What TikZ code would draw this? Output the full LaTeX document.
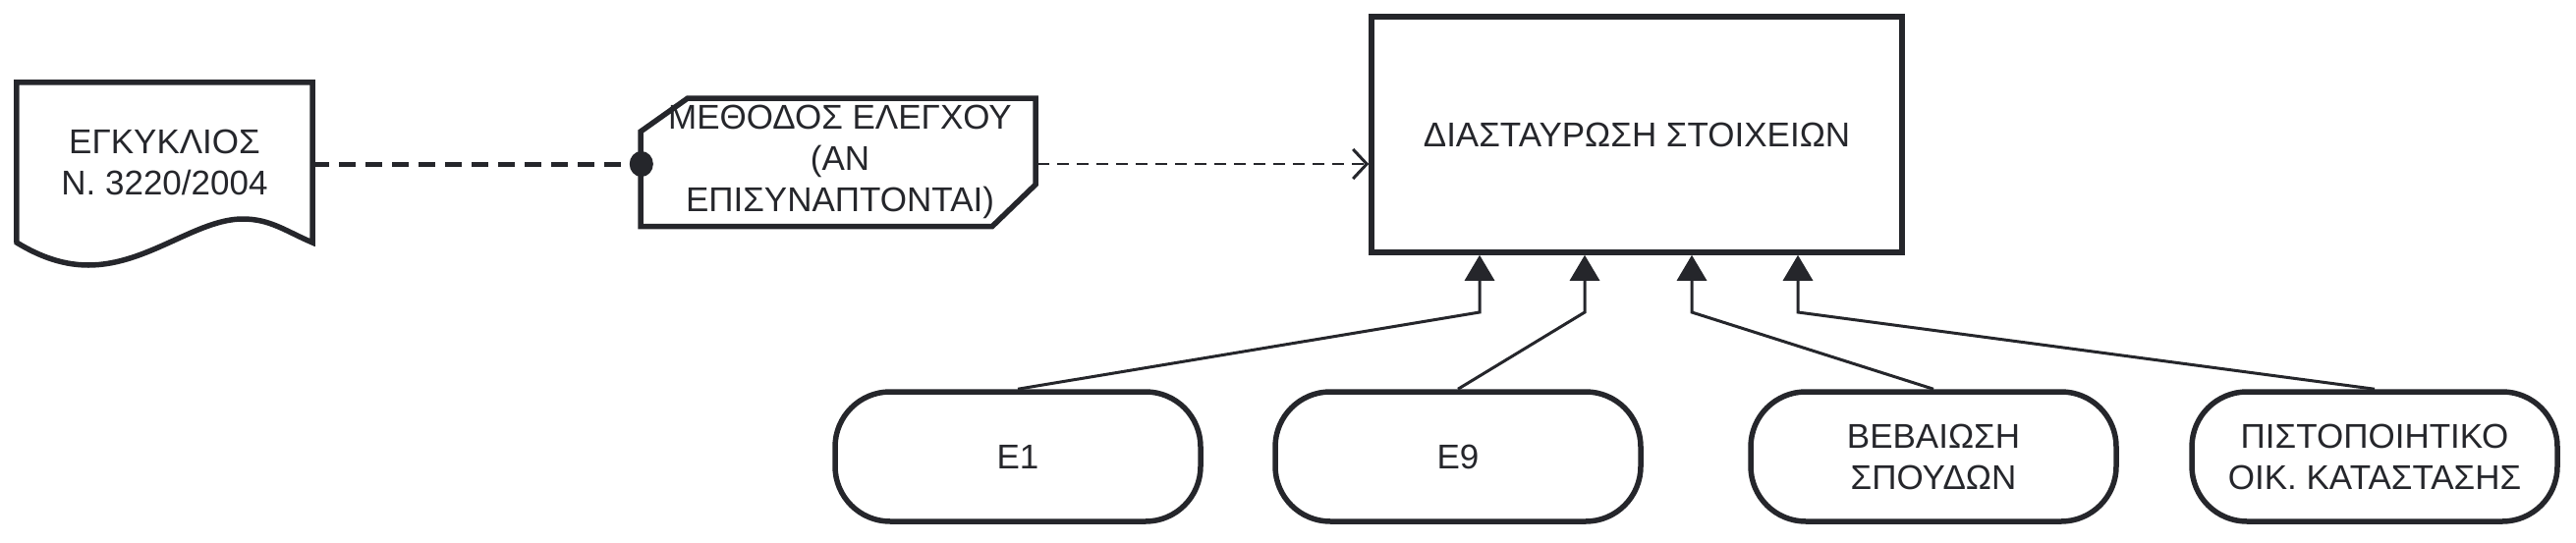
\documentclass[tikz,border=0pt]{standalone}
\usepackage{fontspec}
\setmainfont{Liberation Sans}
\usetikzlibrary{arrows.meta}
\definecolor{ink}{RGB}{37,38,43}
\begin{document}
\begin{tikzpicture}[x=1pt,y=-1pt,
  txt/.style={font=\fontsize{35}{42}\selectfont, text=ink, align=center},
  border/.style={draw=ink, line width=5.5pt, line join=miter},
  pill/.style={txt, border, rounded corners=56pt, minimum width=372pt, minimum height=132pt},
  feed/.style={draw=ink, line width=3pt, -{Triangle[length=26pt,width=30pt]}},
  thickdash/.style={draw=ink, line width=5pt, dash pattern=on 17pt off 10pt},
  thindash/.style={draw=ink, line width=2.6pt, dash pattern=on 12pt off 8pt}]
\useasboundingbox (0,0) rectangle (2622,552);
% document shape
\node[txt, minimum width=301pt, minimum height=162pt] (doc) at (167.5,165) {ΕΓΚΥΚΛΙΟΣ\\Ν. 3220/2004};
\draw[border] (doc.north west) -- (doc.north east) -- (318,247)
  .. controls (290,235) and (275,223) .. (247,223)
  .. controls (200,223) and (150,270) .. (90,270)
  .. controls (60,270) and (35,258) .. (17,247) -- cycle;
% card shape
\node[txt, minimum width=402pt, minimum height=131pt] (card) at (855,165) {ΜΕΘΟΔΟΣ ΕΛΕΓΧΟΥ\\(ΑΝ\\ΕΠΙΣΥΝΑΠΤΟΝΤΑΙ)};
\draw[border] (700,100) -- (1054,100) -- (1054,188) -- (1010,230.5) -- (652,230.5) -- (652,134) -- cycle;
% main process
\node[txt, border, minimum width=540pt, minimum height=240pt] (proc) at (1666,137) {ΔΙΑΣΤΑΥΡΩΣΗ ΣΤΟΙΧΕΙΩΝ};
% inputs
\node[pill] (e1) at (1036,465) {Ε1};
\node[pill] (e9) at (1484,465) {Ε9};
\node[pill] (beb) at (1968,465) {ΒΕΒΑΙΩΣΗ\\ΣΠΟΥΔΩΝ};
\node[pill] (pist) at (2417,465) {ΠΙΣΤΟΠΟΙΗΤΙΚΟ\\ΟΙΚ. ΚΑΤΑΣΤΑΣΗΣ};
% connectors
\draw[thickdash, -{Circle[length=24pt,width=26pt]}, shorten >=-11pt] (doc.east |- 0,167) -- (card.west |- 0,167);
\draw[thindash, -{Straight Barb[length=14pt,width=30pt,line width=3pt]}] (card.east |- 0,167) -- (proc.west |- 0,167);
\coordinate (b1) at (1506,318);
\coordinate (b2) at (1613,318);
\coordinate (b3) at (1722,318);
\coordinate (b4) at (1830,318);
\draw[feed] (e1.north) -- (b1) -- (b1 |- proc.south);
\draw[feed] (e9.north) -- (b2) -- (b2 |- proc.south);
\draw[feed] (beb.north) -- (b3) -- (b3 |- proc.south);
\draw[feed] (pist.north) -- (b4) -- (b4 |- proc.south);
\end{tikzpicture}
\end{document}
